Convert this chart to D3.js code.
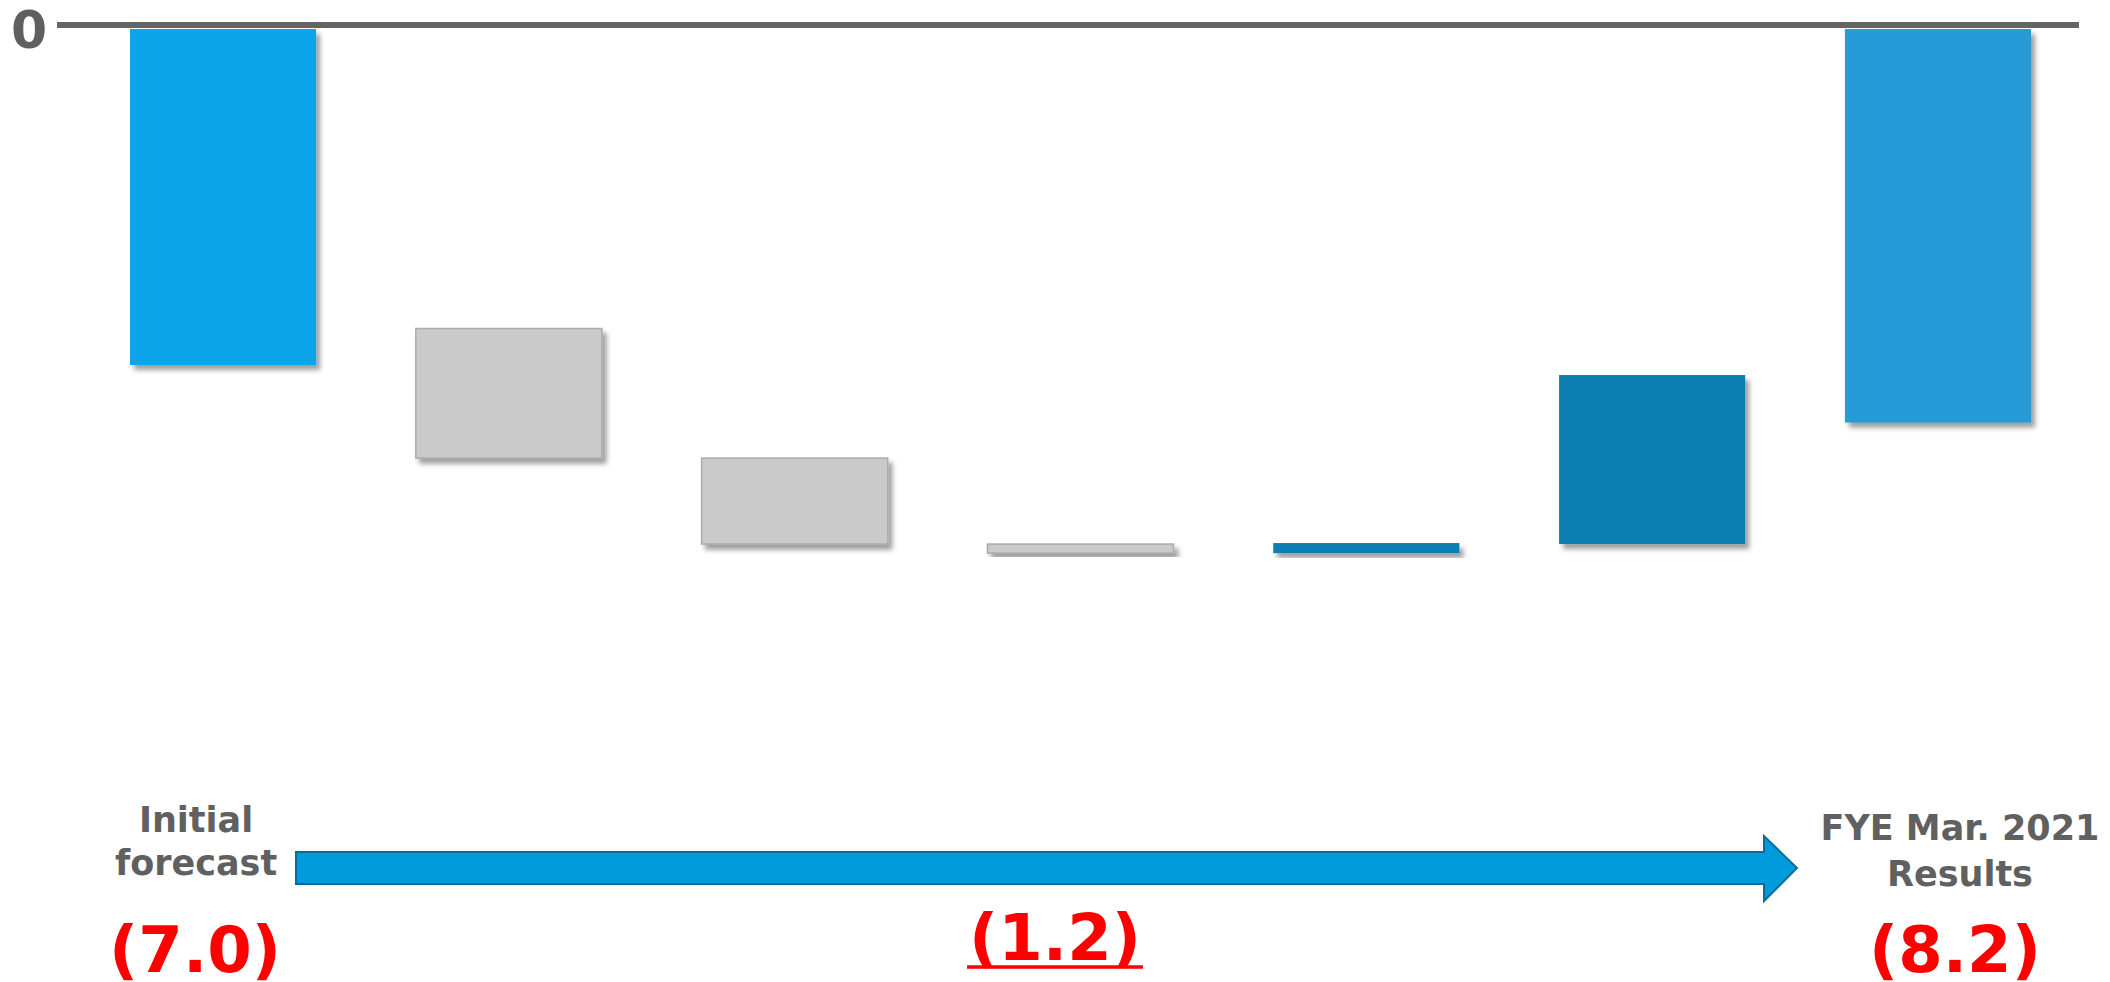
<!DOCTYPE html>
<html>
<head>
<meta charset="utf-8">
<script src="https://cdn.jsdelivr.net/npm/d3@7"></script>
<style>
  html, body { margin: 0; padding: 0; background: #ffffff; }
  svg { display: block; }
</style>
</head>
<body>
<svg id="chart" width="2110" height="982"></svg>
<script>
// ---- Data ----
const categories = ["Initial forecast", "Step 1", "Step 2", "Step 3", "Step 4", "Step 5", "FYE Mar. 2021 Results"];
const barTypes   = ["total", "down", "down", "down", "up", "up", "total"];
// upper and lower value of every bar (totals run from 0)
const barHigh    = [0, -6.24, -8.94, -10.73, -10.71, -7.21, 0];
const barLow     = [-7.0, -8.94, -10.73, -10.92, -10.92, -10.73, -8.2];
const barColors  = ["#0AA5EA", "#CACACA", "#CACACA", "#CACACA", "#077EB2", "#077EB2", "#289BD7"];
const endLabels  = [["Initial", "forecast"], ["FYE Mar. 2021", "Results"]];
const valueTexts = ["(7.0)", "(1.2)", "(8.2)"];
const yTickLabels = ["0"];

const segs = categories.map((c, i) => ({ i, cat: c, type: barTypes[i], hi: barHigh[i], lo: barLow[i], color: barColors[i] }));

const svg = d3.select("#chart");

const x = d3.scaleBand().domain(d3.range(categories.length)).range([130, 2031]).paddingInner(0.349).paddingOuter(0);
const y = d3.scaleLinear().domain([0, -12]).range([29, 605]);

// shadow filter
const defs = svg.append("defs");
const f = defs.append("filter").attr("id", "shadow").attr("x", "-10%").attr("y", "-10%").attr("width", "130%").attr("height", "150%");
f.append("feDropShadow").attr("dx", 4).attr("dy", 5).attr("stdDeviation", 2.5)
  .attr("flood-color", "#000").attr("flood-opacity", 0.38);

// bars
svg.append("g").selectAll("rect").data(segs).join("rect")
  .attr("x", d => x(d.i))
  .attr("width", x.bandwidth())
  .attr("y", d => y(d.hi))
  .attr("height", d => y(d.lo) - y(d.hi))
  .attr("fill", d => d.color)
  .attr("stroke", d => d.type === "down" ? "#ABABAB" : "none")
  .attr("stroke-width", 1.5)
  .attr("filter", "url(#shadow)");

// zero line
svg.append("line")
  .attr("x1", 57).attr("x2", 2079)
  .attr("y1", y(0) - 4).attr("y2", y(0) - 4)
  .attr("stroke", "#646464").attr("stroke-width", 6);

// zero label
svg.append("text")
  .attr("x", 29).attr("y", 48)
  .attr("text-anchor", "middle")
  .attr("font-family", "DejaVu Sans, Verdana, sans-serif")
  .attr("font-weight", "bold").attr("font-size", 52)
  .attr("fill", "#5F5F5F")
  .text(yTickLabels[0]);

// category labels at ends
const labelFont = "DejaVu Sans, Verdana, sans-serif";
const endIdx = [0, categories.length - 1];
const labelOffsets = [-27, 22];
const labelBase = [832, 840];
const labelGap = [43, 46];
endIdx.forEach((idx, k) => {
  const cx = x(idx) + x.bandwidth() / 2 + labelOffsets[k];
  const t = svg.append("text")
    .attr("text-anchor", "middle")
    .attr("font-family", labelFont).attr("font-weight", "bold")
    .attr("font-size", 35).attr("fill", "#606060");
  endLabels[k].forEach((line, j) => {
    t.append("tspan").attr("x", cx).attr("y", labelBase[k] + j * labelGap[k]).text(line);
  });
});

// arrow
const ax0 = 296, ax1 = 1764, tip = 1797, sTop = 852, sBot = 884, hTop = 836, hBot = 901;
const ap = d3.path();
ap.moveTo(ax0, sTop); ap.lineTo(ax1, sTop); ap.lineTo(ax1, hTop); ap.lineTo(tip, (sTop + sBot) / 2);
ap.lineTo(ax1, hBot); ap.lineTo(ax1, sBot); ap.lineTo(ax0, sBot); ap.closePath();
svg.append("path").attr("d", ap.toString())
  .attr("fill", "#009BDB").attr("stroke", "#0A6E9C").attr("stroke-width", 2);

// red value labels
const valPos = [
  { cx: x(0) + x.bandwidth() / 2 - 28, by: 972, underline: false },
  { cx: 1055, by: 960, underline: true },
  { cx: x(categories.length - 1) + x.bandwidth() / 2 + 17, by: 972, underline: false }
];
valueTexts.forEach((txt, k) => {
  const p = valPos[k];
  const t = svg.append("text")
    .attr("x", p.cx).attr("y", p.by)
    .attr("text-anchor", "middle")
    .attr("font-family", labelFont).attr("font-weight", "bold")
    .attr("font-size", 64).attr("fill", "#FF0000")
    .text(txt);
  if (p.underline) {
    const bb = t.node().getBBox();
    svg.append("line")
      .attr("x1", bb.x - 2).attr("x2", bb.x + bb.width + 2)
      .attr("y1", p.by + 7).attr("y2", p.by + 7)
      .attr("stroke", "#FF0000").attr("stroke-width", 3.5);
  }
});
</script>
</body>
</html>
